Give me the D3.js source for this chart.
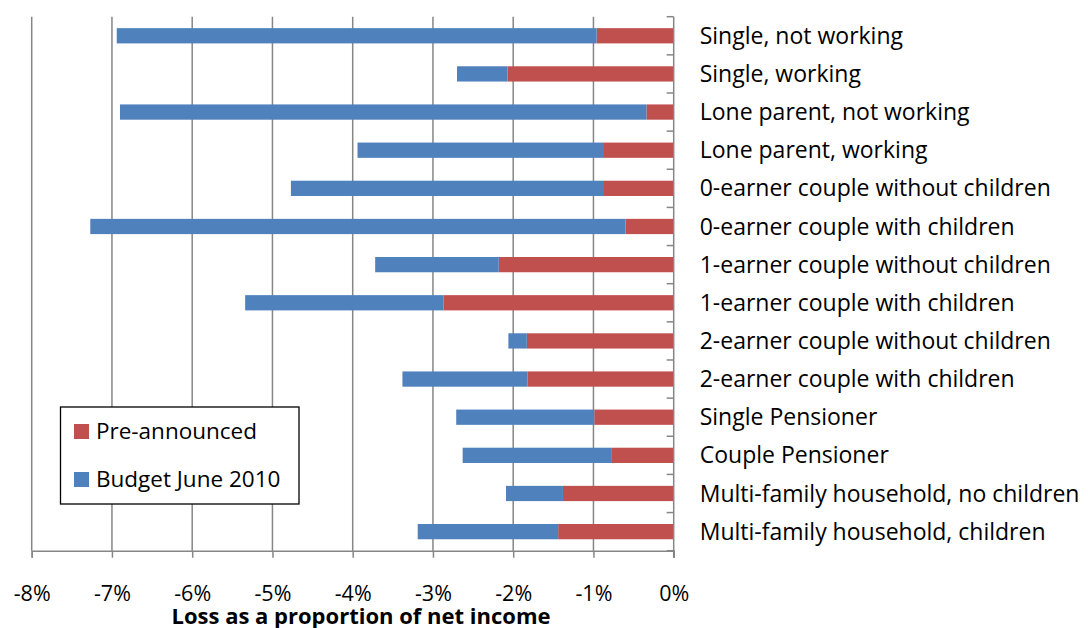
<!DOCTYPE html>
<html>
<head>
<meta charset="utf-8">
<script src="https://cdn.jsdelivr.net/npm/d3@7"></script>
<style>
  body { margin: 0; background: #fff; }
  text { font-family: "Open Sans", "Noto Sans", sans-serif; fill: #000; }
</style>
</head>
<body>
<div id="chart"></div>
<script>
const categories = [
  'Single, not working',
  'Single, working',
  'Lone parent, not working',
  'Lone parent, working',
  '0-earner couple without children',
  '0-earner couple with children',
  '1-earner couple without children',
  '1-earner couple with children',
  '2-earner couple without children',
  '2-earner couple with children',
  'Single Pensioner',
  'Couple Pensioner',
  'Multi-family household, no children',
  'Multi-family household, children'
];
// percent of net income, both negative
const preAnnounced = [-0.96, -2.07, -0.34, -0.88, -0.88, -0.60, -2.18, -2.87, -1.83, -1.82, -0.99, -0.77, -1.38, -1.44];
const budget2010 = [-5.98, -0.63, -6.56, -3.06, -3.89, -6.67, -1.54, -2.47, -0.23, -1.56, -1.72, -1.86, -0.71, -1.75];
const xTicks = [-8, -7, -6, -5, -4, -3, -2, -1, 0];
const seriesNames = ['Pre-announced', 'Budget June 2010'];
const colors = ['#c0504d', '#4f81bd'];

const svgWidth = 1088;
const svgHeight = 628;
const margin = { top: 16.7, left: 31.7, right: 414.3, bottom: 77.3 };
const width = svgWidth - margin.left - margin.right;
const height = svgHeight - margin.top - margin.bottom;

const svg = d3.select('#chart')
  .append('svg')
  .attr('width', svgWidth)
  .attr('height', svgHeight);

const g = svg.append('g')
  .attr('transform', `translate(${margin.left},${margin.top})`);

const x = d3.scaleLinear().domain([-8, 0]).range([0, width]);
const y = d3.scaleBand().domain(categories).range([0, height])
  .paddingInner(0.6).paddingOuter(0.3);

// gridlines
g.append('g')
  .selectAll('line')
  .data(xTicks.slice(0, -1))
  .join('line')
    .attr('x1', d => x(d)).attr('x2', d => x(d))
    .attr('y1', 0).attr('y2', height)
    .attr('stroke', '#868686')
    .attr('stroke-width', 1.5);

// stacked bars
const rows = categories.map((c, i) => ({ cat: c, pre: preAnnounced[i], bud: budget2010[i] }));

g.append('g')
  .selectAll('rect')
  .data(rows)
  .join('rect')
    .attr('x', d => x(d.pre))
    .attr('y', d => y(d.cat))
    .attr('width', d => x(0) - x(d.pre))
    .attr('height', y.bandwidth())
    .attr('fill', colors[0]);

g.append('g')
  .selectAll('rect')
  .data(rows)
  .join('rect')
    .attr('x', d => x(d.pre + d.bud))
    .attr('y', d => y(d.cat))
    .attr('width', d => x(d.pre) - x(d.pre + d.bud))
    .attr('height', y.bandwidth())
    .attr('fill', colors[1]);

// x axis
const xAxis = d3.axisBottom(x)
  .tickValues(xTicks)
  .tickFormat(d => d + '%')
  .tickSize(7)
  .tickPadding(28);

const gx = g.append('g')
  .attr('transform', `translate(0,${height})`)
  .call(xAxis);
gx.select('.domain').attr('stroke', '#868686').attr('stroke-width', 1.5);
gx.selectAll('.tick line').attr('stroke', '#868686').attr('stroke-width', 1.5);
gx.selectAll('.tick text')
  .style('font-size', '21.5px')
  .style('font-family', '"Open Sans", sans-serif')
  .attr('fill', '#000');

// category axis on the zero line
const boundaries = categories.map(c => y(c) - y.step() * y.paddingOuter()).concat([height]);
const gy = g.append('g');
gy.append('line')
  .attr('x1', x(0)).attr('x2', x(0))
  .attr('y1', 0).attr('y2', height + 7)
  .attr('stroke', '#868686').attr('stroke-width', 1.5);
gy.selectAll('line.tk')
  .data(boundaries)
  .join('line')
    .attr('class', 'tk')
    .attr('x1', x(0) - 7).attr('x2', x(0))
    .attr('y1', d => d).attr('y2', d => d)
    .attr('stroke', '#868686').attr('stroke-width', 1.5);

g.append('g')
  .selectAll('text')
  .data(categories)
  .join('text')
    .attr('x', x(0) + 26)
    .attr('y', d => y(d) + y.bandwidth() / 2)
    .attr('dy', '0.35em')
    .style('font-size', '23px')
    .text(d => d);

// axis title
svg.append('text')
  .attr('x', 361)
  .attr('y', 624)
  .attr('text-anchor', 'middle')
  .style('font-size', '22px')
  .style('font-weight', 'bold')
  .text('Loss as a proportion of net income');

// legend
const legend = svg.append('g').attr('transform', 'translate(60.5,407)');
legend.append('rect')
  .attr('width', 238.5).attr('height', 97)
  .attr('fill', '#fff').attr('stroke', '#000').attr('stroke-width', 1.3);
const items = legend.selectAll('g.item')
  .data(seriesNames)
  .join('g')
    .attr('class', 'item')
    .attr('transform', (d, i) => `translate(13.5,${17 + i * 48})`);
items.append('rect')
  .attr('width', 15).attr('height', 15)
  .attr('fill', (d, i) => colors[i]);
items.append('text')
  .attr('x', 22).attr('y', 7.5).attr('dy', '0.35em')
  .style('font-size', '22.5px')
  .text(d => d);
</script>
</body>
</html>
